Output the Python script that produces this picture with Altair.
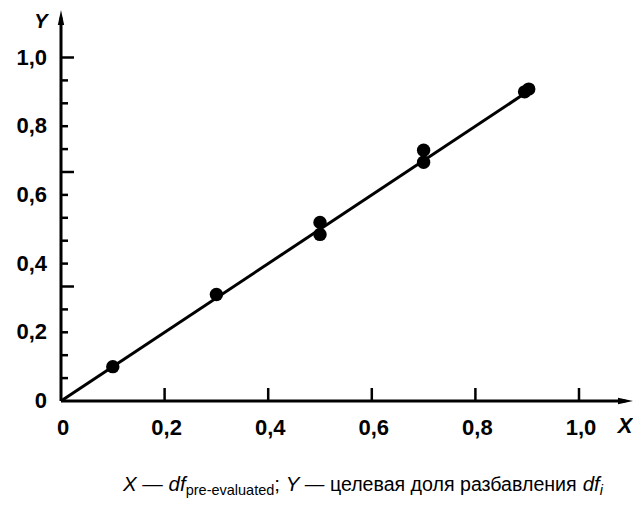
import altair as alt
import pandas as pd

# ---- data ----
pts_x = [0.10, 0.30, 0.50, 0.50, 0.70, 0.70, 0.895, 0.903]
pts_y = [0.10, 0.31, 0.52, 0.485, 0.695, 0.73, 0.90, 0.908]
line_x = [0.0, 0.9]
line_y = [0.0, 0.9]
x_label_values = [0, 0.2, 0.4, 0.6, 0.8, 1.0]
x_label_text = ["0", "0,2", "0,4", "0,6", "0,8", "1,0"]
y_label_values = [0, 0.2, 0.4, 0.6, 0.8, 1.0]
y_label_text = ["0", "0,2", "0,4", "0,6", "0,8", "1,0"]
x_tick_values = [0.2, 0.4, 0.6, 0.8, 1.0]
y_tick_steps = list(range(1, 16))      # y ticks every 1/15
y_long_steps = [5, 10, 15]

W, H = 572, 381
X_MAX = W / 518.0
Y_MAX = H / 343.5
Y_TIP = 1.138
FONT = "Liberation Sans"
xpu = W / X_MAX
ypu = H / Y_MAX
ARROW = 15.0

xs = alt.Scale(domain=[0, X_MAX], nice=False, zero=False)
ys = alt.Scale(domain=[0, Y_MAX], nice=False, zero=False)


def X(f):
    return alt.X(f, scale=xs, axis=None)


def Y(f):
    return alt.Y(f, scale=ys, axis=None)


# axis lines
ax_df = pd.DataFrame({
    "x": [0.0, 0.0], "x2": [X_MAX - ARROW / 2 / xpu, 0.0],
    "y": [0.0, 0.0], "y2": [0.0, Y_TIP - ARROW / 2 / ypu],
})
axes = alt.Chart(ax_df).mark_rule(color="black", strokeWidth=3).encode(
    x=X("x:Q"), x2="x2:Q", y=Y("y:Q"), y2="y2:Q")

xarrow = alt.Chart(pd.DataFrame({"x": [X_MAX - ARROW / 2 / xpu], "y": [0.0]})).mark_point(
    shape="M-1,-0.42L1,0L-1,0.42Z", size=ARROW ** 2, filled=True, color="black", opacity=1,
    strokeWidth=0).encode(x=X("x:Q"), y=Y("y:Q"))
yarrow = alt.Chart(pd.DataFrame({"x": [0.0], "y": [Y_TIP - ARROW / 2 / ypu]})).mark_point(
    shape="M-0.42,1L0,-1L0.42,1Z", size=ARROW ** 2, filled=True, color="black", opacity=1,
    strokeWidth=0).encode(x=X("x:Q"), y=Y("y:Q"))

# y ticks (inside)
yt_short = pd.DataFrame({"v": [k / 15 for k in y_tick_steps if k not in y_long_steps]})
yt_long = pd.DataFrame({"v": [k / 15 for k in y_long_steps]})
ytick_s = alt.Chart(yt_short).mark_rule(color="black", strokeWidth=2.5).encode(
    y=Y("v:Q"), x=alt.value(0), x2=alt.value(7))
ytick_l = alt.Chart(yt_long).mark_rule(color="black", strokeWidth=2.5).encode(
    y=Y("v:Q"), x=alt.value(0), x2=alt.value(13))
xtick = alt.Chart(pd.DataFrame({"v": x_tick_values})).mark_rule(color="black", strokeWidth=2.5).encode(
    x=X("v:Q"), y=alt.value(H), y2=alt.value(H - 13))

# tick labels
ylab = alt.Chart(pd.DataFrame({"v": y_label_values, "t": y_label_text})).mark_text(
    font=FONT, fontSize=22, fontWeight="bold", align="right", baseline="middle", color="black"
).encode(y=Y("v:Q"), x=alt.value(-14), text="t:N")
xlab = alt.Chart(pd.DataFrame({"v": x_label_values, "t": x_label_text})).mark_text(
    font=FONT, fontSize=22, fontWeight="bold", align="center", baseline="top", color="black",
    dx=2).encode(x=X("v:Q"), y=alt.value(H + 17), text="t:N")

# fitted line
line = alt.Chart(pd.DataFrame({"x": line_x, "y": line_y})).mark_line(
    color="black", strokeWidth=3).encode(x=X("x:Q"), y=Y("y:Q"))

points = alt.Chart(pd.DataFrame({"x": pts_x, "y": pts_y})).mark_circle(
    color="black", size=180, opacity=1).encode(x=X("x:Q"), y=Y("y:Q"))


def txt(s, px, py, size, style="normal", weight="normal", align="left", baseline="alphabetic"):
    return alt.Chart(pd.DataFrame({"t": [s]})).mark_text(
        font=FONT, fontSize=size, fontStyle=style, fontWeight=weight, align=align,
        baseline=baseline, color="black").encode(
        x=alt.value(px), y=alt.value(py), text="t:N")


titles = [
    txt("Y", -20, 2, 20, "italic", "bold", "center", "middle"),
    txt("X", 564, H + 25, 22, "italic", "bold", "center", "middle"),
]

# caption built from styled pieces (Arial/Liberation Sans advance widths)
WID = {" ": 278, "X": 667, "Y": 667, "d": 556, "f": 278, "i": 222, "p": 556, "r": 333,
       "e": 556, "-": 333, "v": 500, "a": 556, "l": 222, "u": 556, "t": 278, ";": 278,
       "—": 1000, "а": 556, "б": 568, "в": 531, "д": 570, "е": 556, "з": 458, "и": 559,
       "л": 552, "н": 552, "о": 556, "р": 556, "ц": 565, "я": 542}


def width(s, size):
    return sum(WID.get(c, 556) for c in s) / 1000 * size


F, FC, FS = 20.5, 19.6, 14.5
BASE = 471
segments = [("X", F, "italic", 0), (" — ", F, "normal", 0), ("df", F, "italic", 0),
            ("pre-evaluated", FS, "normal", 3.5), ("; ", F, "normal", 0), ("Y", F, "italic", 0),
            (" — целевая доля разбавления ", FC, "normal", 0), ("df", F, "italic", 0),
            ("i", FS, "italic", 3.5)]
cap_layers = []
cx = 62.0
for s, sz, st, dy in segments:
    lead = len(s) - len(s.lstrip(" "))
    body = s.strip(" ")
    x0 = cx + width(" " * lead, sz)
    cap_layers.append(txt(body, x0, BASE + dy, sz, st))
    cx += width(s, sz)

chart = alt.layer(axes, xarrow, yarrow, ytick_s, ytick_l, xtick, line, points, ylab, xlab,
                  *titles, *cap_layers).properties(
    width=W, height=H,
    autosize=alt.AutoSizeParams(type="none"),
    padding={"left": 53, "top": 12, "right": 0, "bottom": 97},
    background="white",
).configure_view(stroke=None)

chart.save("out.html", embed_options={"renderer": "svg", "actions": False})
